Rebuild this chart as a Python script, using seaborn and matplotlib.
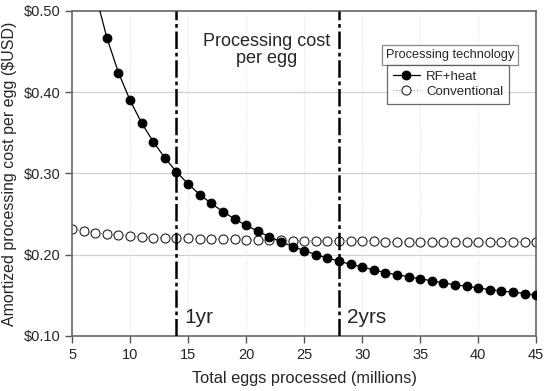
import numpy as np
import pandas as pd
import matplotlib
matplotlib.use("Agg")
import matplotlib.pyplot as plt
from matplotlib.ticker import FuncFormatter
import seaborn as sns

# eggs processed (millions)
eggs = list(range(5, 46))

# RF+heat amortized cost per egg (first points lie above the axis top)
rf_heat = [0.698, 0.595, 0.522, 0.467, 0.424, 0.390, 0.362, 0.339, 0.319, 0.302,
           0.287, 0.274, 0.263, 0.253, 0.244, 0.236, 0.229, 0.222, 0.216, 0.210,
           0.205, 0.200, 0.196, 0.192, 0.188, 0.185, 0.181, 0.178, 0.175, 0.173,
           0.170, 0.168, 0.165, 0.163, 0.161, 0.159, 0.157, 0.155, 0.154, 0.152,
           0.150]

# conventional processing cost per egg
conventional = [0.232, 0.229, 0.227, 0.225, 0.224, 0.223, 0.222, 0.221, 0.221, 0.220,
                0.220, 0.219, 0.219, 0.219, 0.219, 0.218, 0.218, 0.218, 0.218, 0.217,
                0.217, 0.217, 0.217, 0.217, 0.217, 0.217, 0.217, 0.216, 0.216, 0.216,
                0.216, 0.216, 0.216, 0.216, 0.216, 0.216, 0.216, 0.216, 0.216, 0.216,
                0.216]

year_marks = [14, 28]
year_labels = ["1yr", "2yrs"]

sns.set_style("white")
plt.rcParams['font.family'] = ['Liberation Sans', 'DejaVu Sans']

fig = plt.figure(figsize=(5.5, 3.91), dpi=100)
ax = fig.add_axes([0.131, 0.141, 0.844, 0.831])

# grid
for v in [0.2, 0.3, 0.4]:
    ax.axhline(v, color='#d0d0d0', lw=0.9, zorder=0)
for v in range(10, 45, 5):
    ax.axvline(v, color='#e0e0e0', lw=0.8, ls=(0, (1, 1.5)), zorder=0)

sns.lineplot(x=eggs, y=rf_heat, ax=ax, color='black', lw=0.9, marker='o',
             markersize=6.3, markerfacecolor='black', markeredgecolor='black',
             label='RF+heat', zorder=3)
sns.lineplot(x=eggs, y=conventional, ax=ax, color='#909090', lw=0.8, ls=':',
             marker='o', markersize=6.5, markerfacecolor='white',
             markeredgecolor='#222222', markeredgewidth=0.8,
             label='Conventional', zorder=2)

for xm, lab in zip(year_marks, year_labels):
    ax.axvline(xm, color='black', lw=1.8, ls=(0, (7, 1.5, 1.5, 1.5)), zorder=4)
    ax.text(xm + 0.7, 0.123, lab, fontsize=15, ha='left', va='center')

ax.text(21.8, 0.452, "Processing cost\nper egg", fontsize=13, ha='center',
        va='center', linespacing=1.05)

ax.set_xlim(5, 45)
ax.set_ylim(0.10, 0.50)
ax.set_xticks(range(5, 46, 5))
ax.set_yticks([0.1, 0.2, 0.3, 0.4, 0.5])
ax.yaxis.set_major_formatter(FuncFormatter(lambda v, p: f"${v:.2f}"))
ax.tick_params(axis='both', which='major', direction='out', length=5,
               width=1, color='#555555', labelsize=10.5, left=True, bottom=True)
for s in ax.spines.values():
    s.set_color('#666666')
    s.set_linewidth(1.2)

ax.set_xlabel("Total eggs processed (millions)", fontsize=11.8, labelpad=7)
ax.set_ylabel("Amortized processing cost per egg ($USD)", fontsize=11.5, labelpad=5)

leg = ax.legend(loc='upper left', bbox_to_anchor=(0.679, 0.834), fontsize=9.5,
                frameon=True, fancybox=False, edgecolor='#444444',
                handlelength=2.0, borderpad=0.45, labelspacing=0.2,
                handletextpad=0.5, borderaxespad=0)
leg.get_frame().set_linewidth(0.9)
ax.text(0.8136, 0.864, "Processing technology", transform=ax.transAxes,
        fontsize=9.2, ha='center', va='center',
        bbox=dict(boxstyle='square,pad=0.3', fc='white', ec='#888888', lw=0.9))

fig.savefig("out.png", dpi=100)
